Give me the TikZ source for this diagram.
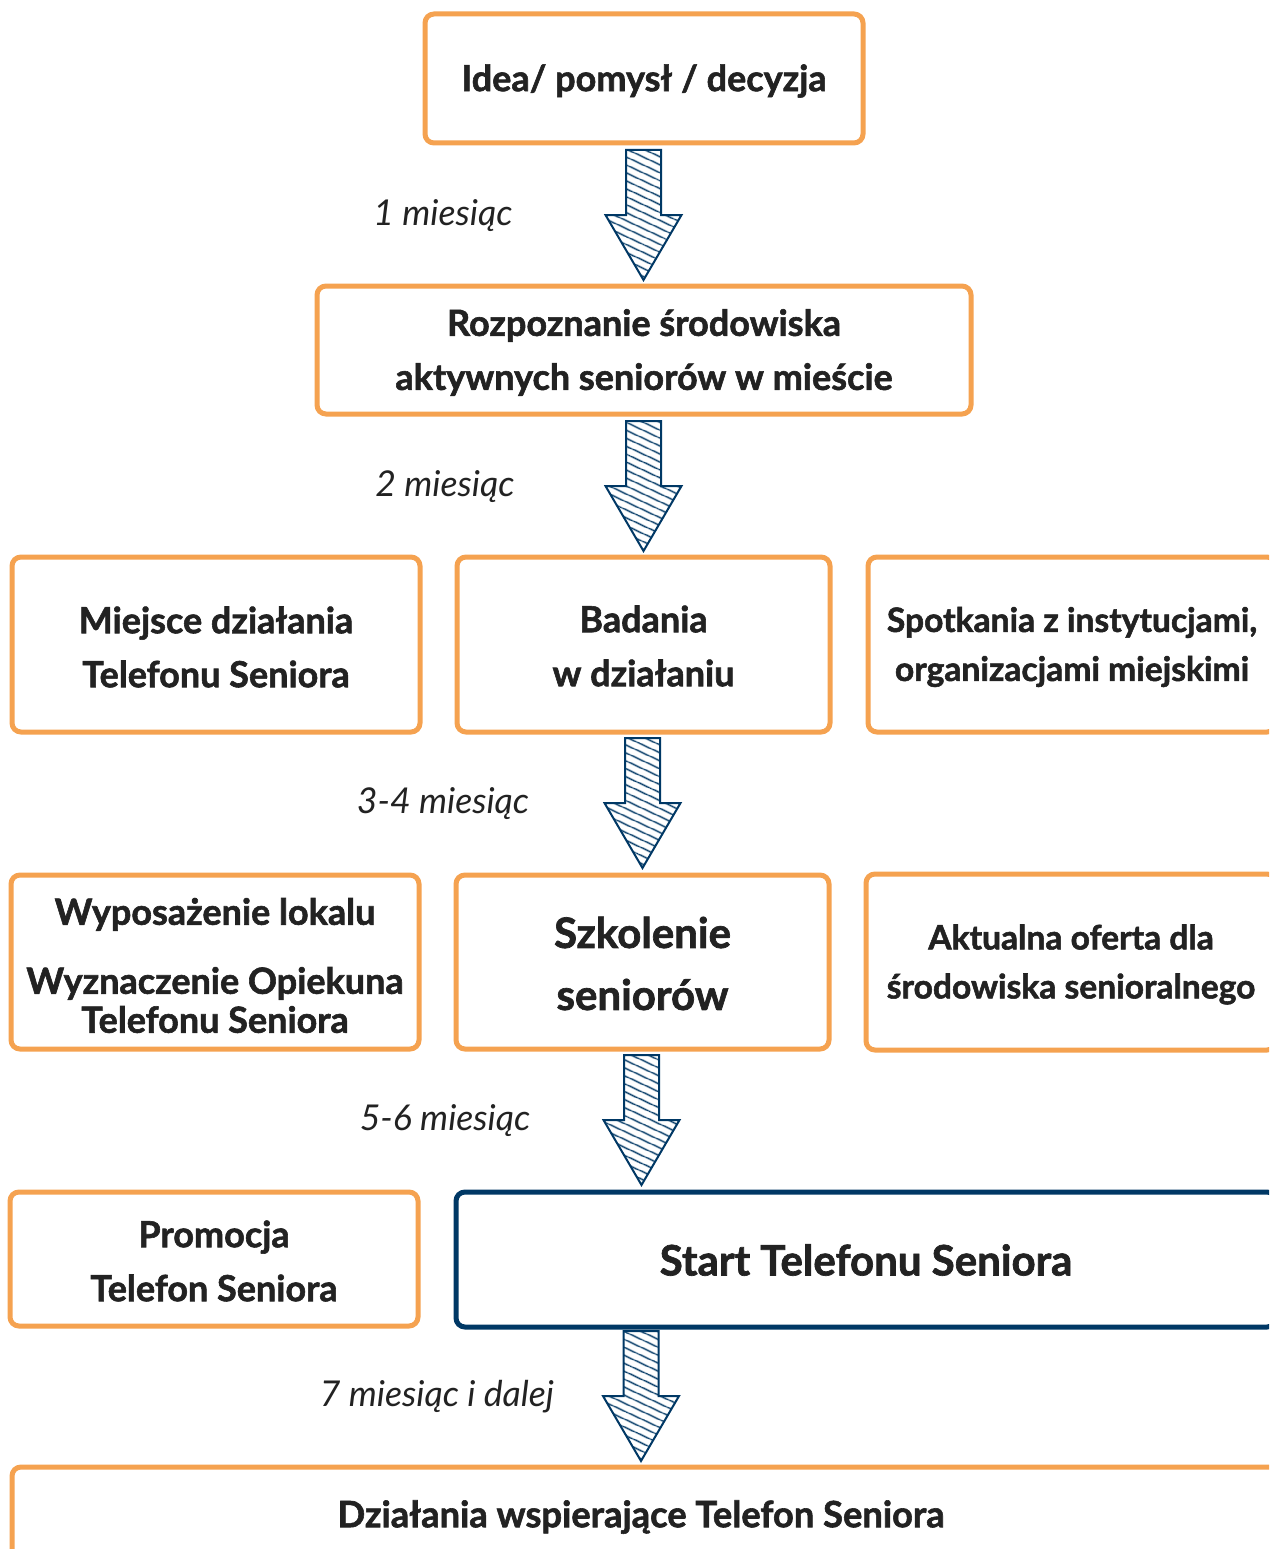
\documentclass[tikz,border=0pt]{standalone}
\usepackage{fontspec}
\setmainfont{Lato}[BoldFeatures={FakeBold=1.6}]
\usetikzlibrary{patterns.meta}
\definecolor{boxorange}{RGB}{245,162,80}
\definecolor{navy}{RGB}{0,56,101}
\definecolor{txt}{RGB}{34,34,34}
\tikzset{
  obox/.style={draw=boxorange, line width=5pt, rounded corners=9pt, fill=white, inner sep=0pt},
  nbox/.style={obox, draw=navy},
  btxt/.style={text=txt, font=\bfseries\fontsize{36}{54}\selectfont, align=center, inner sep=0pt},
  lbl/.style={text=txt, font=\itshape\fontsize{35.6}{40}\selectfont, inner sep=0pt},
  harrow/.style={draw=navy, line width=2pt, line join=miter,
    pattern={Lines[angle=-25, distance=6.5pt, line width=1.6pt]}, pattern color=navy},
}
\newcommand{\hatcharrow}[1]{%
  \draw[harrow] (#1) ++(-17.5,0) -- ++(35,0) -- ++(0,65) -- ++(20.5,0)
    -- ++(-38,65) -- ++(-38,-65) -- ++(20.5,0) -- cycle;}
\begin{document}
\begin{tikzpicture}[x=1pt,y=-1pt]
\useasboundingbox (0,0) rectangle (1269,1549);
\clip (0,0) rectangle (1269,1549);
\fill[white] (0,0) rectangle (1269,1549);

% boxes
\node[obox, minimum width=438, minimum height=129] (idea) at (644,78.5) {};
\node[obox, minimum width=654, minimum height=128] (rozp) at (644,350) {};
\node[obox, minimum width=408, minimum height=175] (miejsce) at (216,644.5) {};
\node[obox, minimum width=373, minimum height=175] (badania) at (643.5,644.5) {};
\node[obox, minimum width=408, minimum height=175] (spotkania) at (1072,644.5) {};
\node[obox, minimum width=408, minimum height=174] (wypos) at (215,962) {};
\node[obox, minimum width=373, minimum height=174] (szkol) at (642.5,962) {};
\node[obox, minimum width=410, minimum height=176] (oferta) at (1071,962) {};
\node[obox, minimum width=408, minimum height=134] (promo) at (214,1259) {};
\node[nbox, minimum width=820, minimum height=135] (start) at (866,1259.5) {};
\node[obox, minimum width=1266, minimum height=160] (dzial) at (645,1547) {};

% box texts
\node[btxt] (idea-t) at ([yshift=-2.5pt]idea.center) {Idea/ pomysł / decyzja};
\node[btxt] (rozp-t) at ([yshift=-2.5pt]rozp.center) {Rozpoznanie środowiska\\aktywnych seniorów w mieście};
\node[btxt] (miejsce-t) at ([yshift=-2.5pt]miejsce.center) {Miejsce działania\\Telefonu Seniora};
\node[btxt] (badania-t) at ([yshift=-1.5pt]badania.center) {Badania\\w działaniu};
\node[btxt, font=\bfseries\fontsize{33.6}{49}\selectfont] (spotkania-t) at ([yshift=-2.5pt]spotkania.center) {Spotkania z instytucjami,\\organizacjami miejskimi};
\node[btxt, font=\bfseries\fontsize{36}{39}\selectfont] (wypos-t) at ([yshift=-3.5pt]wypos.center) {Wyposażenie lokalu\\[30pt]Wyznaczenie Opiekuna\\Telefonu Seniora};
\node[btxt, font=\bfseries\fontsize{42}{62}\selectfont] (szkol-t) at ([yshift=-1.5pt]szkol.center) {Szkolenie\\seniorów};
\node[btxt, font=\bfseries\fontsize{33.6}{49}\selectfont] (oferta-t) at ([yshift=-2.5pt]oferta.center) {Aktualna oferta dla\\środowiska senioralnego};
\node[btxt] (promo-t) at ([yshift=-2pt]promo.center) {Promocja\\Telefon Seniora};
\node[btxt, font=\bfseries\fontsize{42}{48}\selectfont] (start-t) at ([yshift=-0.5pt]start.center) {Start Telefonu Seniora};
\node[btxt, font=\bfseries\fontsize{36.3}{40}\selectfont] (dzial-t) at (641,1517) {Działania wspierające Telefon Seniora};

% arrows
\coordinate (a1) at (643.5,150);
\coordinate (a2) at (643.5,421);
\coordinate (a3) at (642.5,738);
\coordinate (a4) at (641.5,1055);
\coordinate (a5) at (641,1331);
\hatcharrow{a1}
\hatcharrow{a2}
\hatcharrow{a3}
\hatcharrow{a4}
\hatcharrow{a5}

% labels
\node[lbl] (l1) at (443,216) {1 miesiąc};
\node[lbl] (l2) at (445,487) {2 miesiąc};
\node[lbl] (l3) at (443,804) {3-4 miesiąc};
\node[lbl] (l4) at (445,1121) {5-6 miesiąc};
\node[lbl] (l5) at (437,1397) {7 miesiąc i dalej};
\end{tikzpicture}
\end{document}
